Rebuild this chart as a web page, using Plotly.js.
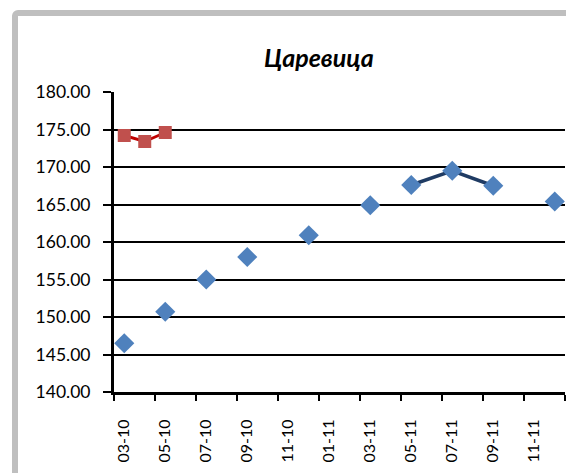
<!DOCTYPE html>
<html>
<head>
<meta charset="utf-8">
<script src="https://cdn.plot.ly/plotly-3.0.1.min.js"></script>
<style>
  html, body { margin: 0; padding: 0; background: #ffffff; overflow: hidden; }
  #frame { position: absolute; left: 12px; top: 10px; width: 620px; height: 520px;
           border: 6px solid #BFBFBF; border-radius: 6px; background: #ffffff; z-index: 0; }
  #chart { position: absolute; left: 0; top: 0; width: 566px; height: 473px; z-index: 1; }
</style>
</head>
<body>
<div id="frame"></div>
<div id="chart"></div>
<script>
// Month axis (categories, one per month)
const months = ['03-10','04-10','05-10','06-10','07-10','08-10','09-10','10-10','11-10','12-10',
                '01-11','02-11','03-11','04-11','05-11','06-11','07-11','08-11','09-11','10-11','11-11','12-11'];
// Axis labels (every second month)
const tickLabels = ['03-10','05-10','07-10','09-10','11-10','01-11','03-11','05-11','07-11','09-11','11-11'];

// Series 1 (red squares)
const redMonths = ['03-10','04-10','05-10'];
const redValues = [174.2, 173.4, 174.6];

// Series 2 (blue diamonds)
const blueMonths = ['03-10','05-10','07-10','09-10','12-10','03-11','05-11','07-11','09-11','12-11'];
const blueValues = [146.5, 150.7, 155.0, 158.0, 160.9, 164.9, 167.6, 169.5, 167.5, 165.4];
// Months of series 2 joined by a line
const blueLinked = ['05-11','07-11','09-11'];

const idx = m => months.indexOf(m);

const linkX = blueLinked.map(idx);
const linkY = blueLinked.map(m => blueValues[blueMonths.indexOf(m)]);

const traces = [
  { x: redMonths.map(idx), y: redValues, type: 'scatter', mode: 'lines+markers',
    line: { color: '#C00000', width: 3 },
    marker: { symbol: 'square', size: 13, color: '#C0504D' },
    hoverinfo: 'skip', showlegend: false, cliponaxis: false },
  { x: linkX, y: linkY, type: 'scatter', mode: 'lines',
    line: { color: '#1F3B63', width: 3.5 },
    hoverinfo: 'skip', showlegend: false },
  { x: blueMonths.map(idx), y: blueValues, type: 'scatter', mode: 'markers',
    marker: { symbol: 'diamond', size: 15.5, color: '#4F81BD' },
    hoverinfo: 'skip', showlegend: false, cliponaxis: false }
];

const labelPos = tickLabels.map(idx);
const boundaryPos = months.filter((m, i) => i % 2 === 0).map(m => idx(m) - 0.5).concat([months.length - 0.5]);

const layout = {
  width: 566, height: 473,
  margin: { l: 114, r: 1, t: 92, b: 81 },
  paper_bgcolor: 'rgba(0,0,0,0)',
  plot_bgcolor: 'rgba(0,0,0,0)',
  font: { family: 'Lato, "Open Sans", sans-serif', size: 16, color: '#000' },
  title: { text: '<b><i>Царевица</i></b>', x: 319 / 566, xanchor: 'center', xref: 'container',
           y: 1 - 58 / 473, yanchor: 'middle', yref: 'container',
           font: { family: 'Lato, "Open Sans", sans-serif', size: 25, color: '#000' } },
  xaxis: {
    range: [-0.5, months.length - 0.5],
    tickmode: 'array', tickvals: labelPos, ticktext: tickLabels,
    tickangle: -90, ticks: '', ticklabelstandoff: 18,
    showgrid: false, zeroline: false,
    showline: true, linecolor: '#000', linewidth: 3,
    minor: { tickmode: 'array', tickvals: boundaryPos, ticks: 'outside', ticklen: 6,
             tickwidth: 2, tickcolor: '#000', showgrid: false },
    tickfont: { size: 16 }
  },
  yaxis: {
    range: [140, 180], dtick: 5, tick0: 140, tickformat: '.2f',
    ticks: 'outside', ticklen: 8, tickwidth: 2, tickcolor: '#000',
    ticklabelstandoff: 9,
    showgrid: true, gridcolor: '#000', gridwidth: 2,
    zeroline: false, showline: true, linecolor: '#000', linewidth: 3,
    tickfont: { size: 17.5 }
  }
};

Plotly.newPlot('chart', traces, layout, { displayModeBar: false, staticPlot: true });
</script>
</body>
</html>
